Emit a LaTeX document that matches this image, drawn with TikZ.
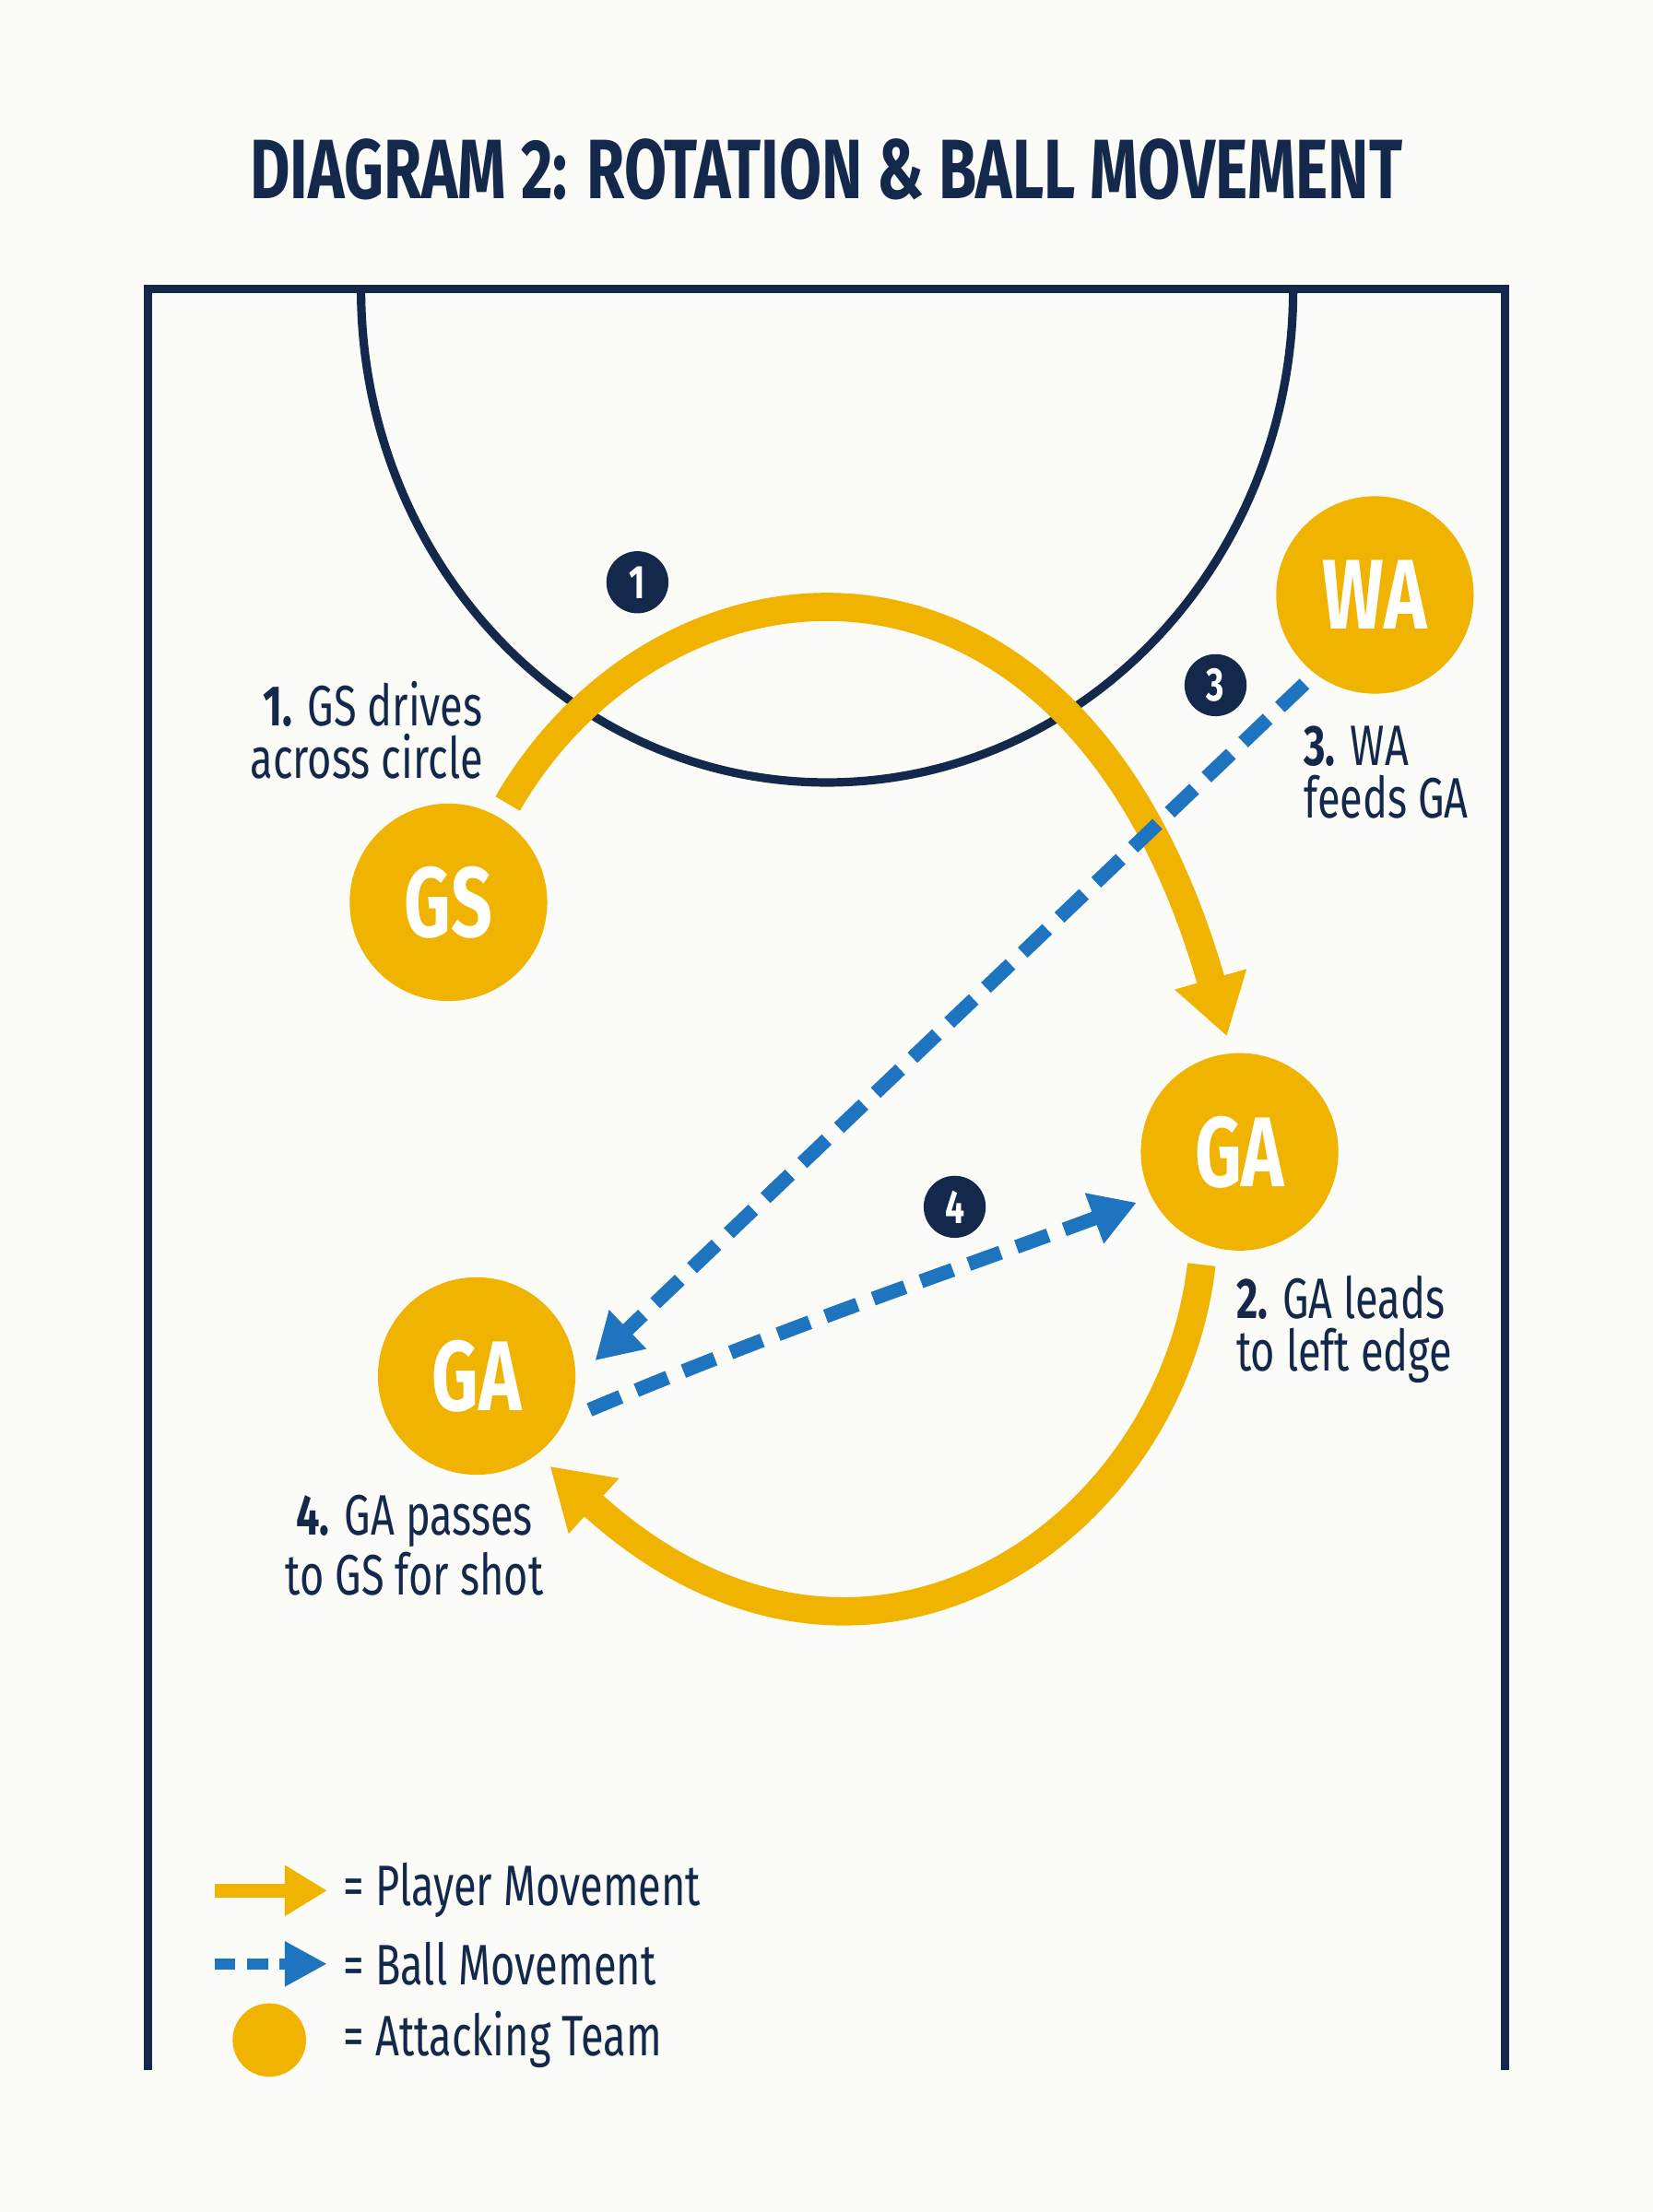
\documentclass[tikz,border=0pt]{standalone}
\usepackage{fontspec}
\setmainfont{Fira Sans}[FakeStretch=0.73]
\usetikzlibrary{arrows.meta}
\definecolor{navy}{HTML}{14284B}
\definecolor{gold}{HTML}{F0B400}
\definecolor{ball}{HTML}{1F74C0}
\definecolor{bg}{HTML}{FBFBF8}
\begin{document}
\begin{tikzpicture}[x=0.01cm,y=-0.01cm,
 player/.style={circle,fill=gold,minimum size=1.4cm,inner sep=0,text=white,font=\bfseries\fontsize{20}{20}\selectfont},
 badge/.style={circle,fill=navy,minimum size=0.44cm,inner sep=0,text=white,font=\bfseries\fontsize{9.5}{9.5}\selectfont},
 lbl/.style={text=navy,font=\fontsize{11.5}{10.6}\selectfont,inner sep=0},
 pmove/.style={gold,line width=0.2cm,-{Triangle[length=0.42cm,width=0.5cm]}},
 bmove/.style={ball,line width=0.1cm,dash pattern=on 0.24cm off 0.12cm,-{Triangle[length=0.32cm,width=0.36cm]}},
 court/.style={navy,line width=0.06cm}]
\fill[bg] (0,0) rectangle (1172,1569);
\useasboundingbox (0,0) rectangle (1172,1569);
\node[text=navy,font=\bfseries\fontsize{17}{17}\selectfont] (title) at (586,120) {DIAGRAM 2: ROTATION \& BALL MOVEMENT};
\draw[court] (105,1468) -- (105,205) -- (1067,205) -- (1067,1468);
\draw[court] (256,205) arc[start angle=180,end angle=0,x radius=330.5,y radius=350];
\node[player] (gs) at (318,640) {GS};
\node[player] (wa) at (975,422) {WA};
\node[player] (ga1) at (879,817) {GA};
\node[player] (ga2) at (338,976) {GA};
\coordinate (s1) at (360,570); \coordinate (e1) at (870,735);
\draw[pmove] (s1) .. controls (470,380) and (760,350) .. (e1);
\coordinate (s2) at (852,897); \coordinate (e2) at (390,1040);
\draw[pmove] (s2) .. controls (830,1090) and (610,1240) .. (e2);
\coordinate (s3) at (925,485); \coordinate (e3) at (422,965);
\draw[bmove] (s3) -- (e3);
\coordinate (s4) at (418,1000); \coordinate (e4) at (806,853);
\draw[bmove] (s4) .. controls (560,940) and (680,900) .. (e4);
\node[badge] (b1) at (452,413) {1};
\node[badge] (b3) at (862,486) {3};
\node[badge] (b4) at (677,856) {4};
\node[lbl,align=right,anchor=east] (l1) at (343,518) {\textbf{1.} GS drives\\across circle};
\node[lbl,align=left,anchor=west] (l3) at (924,548) {\textbf{3.} WA\\feeds GA};
\node[lbl,align=left,anchor=west] (l2) at (876,943) {\textbf{2.} GA leads\\to left edge};
\node[lbl,align=center] (l4) at (294,1096) {\textbf{4.} GA passes\\to GS for shot};
\coordinate (a1) at (152,1341); \coordinate (a2) at (232,1341);
\draw[gold,line width=0.1cm,-{Triangle[length=0.3cm,width=0.34cm]}] (a1) -- (a2);
\coordinate (a3) at (152,1393); \coordinate (a4) at (232,1393);
\draw[ball,line width=0.08cm,dash pattern=on 0.15cm off 0.08cm,-{Triangle[length=0.3cm,width=0.3cm]}] (a3) -- (a4);
\node[circle,fill=gold,minimum size=0.52cm,inner sep=0] (lc) at (191,1447) {};
\node[lbl,anchor=west] (t1) at (243,1341) {= Player Movement};
\node[lbl,anchor=west] (t2) at (243,1393) {= Ball Movement};
\node[lbl,anchor=west] (t3) at (243,1447) {= Attacking Team};
\end{tikzpicture}
\end{document}
